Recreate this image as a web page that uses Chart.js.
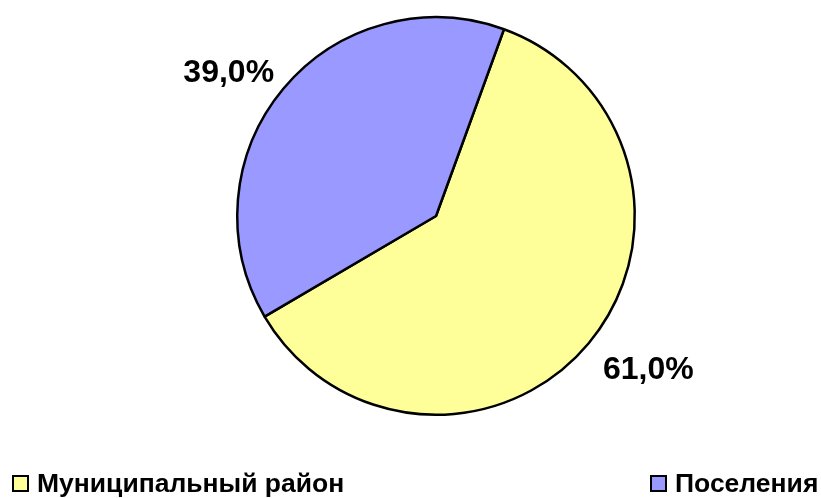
<!DOCTYPE html>
<html>
<head>
<meta charset="utf-8">
<script src="https://cdn.jsdelivr.net/npm/chart.js@4.4.0/dist/chart.umd.min.js"></script>
<style>
    body { margin: 0; background: #fff; }
    .wrap { position: relative; width: 821px; height: 498px; }
    .legend-item { position: absolute; top: 471px; font: bold 26.5px Arial, "Liberation Sans", sans-serif; color: #000; white-space: nowrap; }
    .legend-color { position: absolute; top: 4px; left: 0; width: 17px; height: 17px; box-sizing: border-box; border: 2px solid #000; }
    .legend-label { position: absolute; left: 25px; top: -3px; }
</style>
</head>
<body>
<div class="wrap">
    <canvas id="chart" width="821" height="498"></canvas>
    <div class="legend"></div>
</div>
<script>
const categories = ['Муниципальный район', 'Поселения'];
const shares = [61.0, 39.0];
const sliceColors = ['#FFFF99', '#9999FF'];
const legendLeft = [12, 650];

const pieLabels = {
    id: 'pieLabels',
    afterDatasetsDraw(chart) {
        const ctx = chart.ctx;
        const meta = chart.getDatasetMeta(0);
        ctx.save();
        ctx.font = 'bold 32px Arial, "Liberation Sans", sans-serif';
        ctx.fillStyle = '#000';
        meta.data.forEach((arc, i) => {
            const p = arc.getProps(['x', 'y', 'startAngle', 'endAngle', 'outerRadius'], true);
            const mid = (p.startAngle + p.endAngle) / 2;
            const cx = Math.cos(mid), cy = Math.sin(mid);
            let ax = p.x + cx * (p.outerRadius + 12);
            let ay = p.y + cy * (p.outerRadius + 12);
            const text = shares[i].toFixed(1).replace('.', ',') + '%';
            ctx.textAlign = cx < 0 ? 'right' : 'left';
            if (cy < 0) {
                ctx.textBaseline = 'alphabetic';
                ay += 1;
            } else {
                ctx.textBaseline = 'top';
                ax += 5;
                ay += 3;
            }
            ctx.fillText(text, ax, ay);
        });
        ctx.restore();
    }
};

const chart = new Chart(document.getElementById('chart').getContext('2d'), {
    type: 'pie',
    data: {
        labels: categories,
        datasets: [{
            data: shares,
            backgroundColor: sliceColors,
            hoverBackgroundColor: sliceColors,
            borderColor: '#000',
            borderWidth: 2.5,
            hoverBorderWidth: 2.5
        }]
    },
    options: {
        responsive: false,
        animation: false,
        rotation: 20,
        events: [],
        layout: { padding: { left: 236, right: 185, top: 16, bottom: 82 } },
        plugins: {
            legend: { display: false },
            tooltip: { enabled: false }
        }
    },
    plugins: [pieLabels]
});

// legend as plain html, pinned left and right like the original
const legendContainer = document.querySelector('.legend');
legendContainer.innerHTML = categories.map((label, i) => `
    <div class="legend-item" style="left:${legendLeft[i]}px">
        <span class="legend-color" style="background-color:${sliceColors[i]}"></span>
        <span class="legend-label">${label}</span>
    </div>`).join('');
</script>
</body>
</html>
